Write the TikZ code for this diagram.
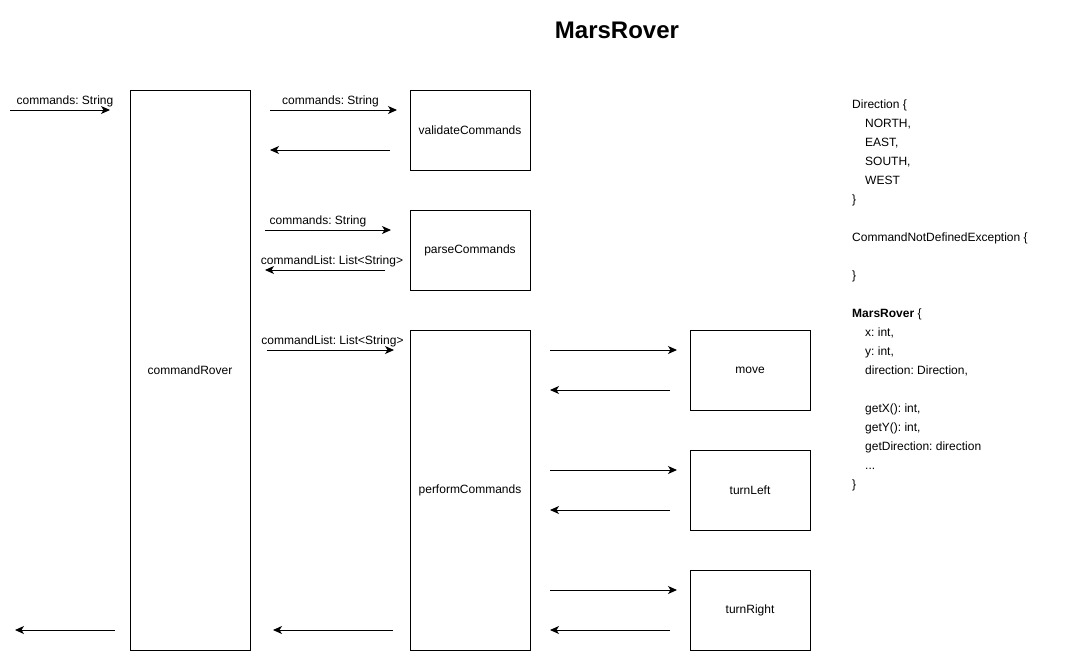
\documentclass[tikz,border=0pt]{standalone}
\usepackage{fontspec}
\setmainfont{Liberation Sans}
\usetikzlibrary{arrows.meta}
\frenchspacing
\begin{document}
\begin{tikzpicture}[x=1pt,y=-1pt,
  box/.style={draw, line width=1pt, minimum width=120pt, inner sep=0pt, font=\fontsize{12}{14}\selectfont},
  msg/.style={line width=1pt, -{Stealth[length=9pt,width=8pt,inset=2.5pt]}},
  lbl/.style={font=\fontsize{12}{14}\selectfont, inner sep=0pt, anchor=base, yshift=5.5pt}
]
\useasboundingbox[fill=white] (0,0) rectangle (1091,651);

\node[font=\bfseries\fontsize{24}{28}\selectfont] (title) at (617,30) {MarsRover};

% boxes
\node[box, minimum height=560pt] (rover) at (190,370) {\raisebox{-1.5pt}{commandRover}};
\node[box, minimum height=80pt] (validate) at (470,130) {\raisebox{-1.5pt}{validateCommands}};
\node[box, minimum height=80pt] (parse) at (470,250) {\raisebox{-1.5pt}{parseCommands}};
\node[box, minimum height=320pt] (perform) at (470,490) {\raisebox{-1.5pt}{performCommands}};
\node[box, minimum height=80pt] (move) at (750,370) {\raisebox{-1.5pt}{move}};
\node[box, minimum height=80pt] (left) at (750,490) {\raisebox{-1.5pt}{turnLeft}};
\node[box, minimum height=80pt] (right) at (750,610) {\raisebox{-1.5pt}{turnRight}};

% arrow end points
\coordinate (a1) at (10,110);  \coordinate (a2) at (110,110);
\coordinate (b1) at (270,110); \coordinate (b2) at (397,110);
\coordinate (c1) at (390,150); \coordinate (c2) at (270,150);
\coordinate (d1) at (265,230); \coordinate (d2) at (391,230);
\coordinate (e1) at (385,270); \coordinate (e2) at (265,270);
\coordinate (f1) at (267,350); \coordinate (f2) at (394,350);
\coordinate (g1) at (550,350); \coordinate (g2) at (677,350);
\coordinate (h1) at (670,390); \coordinate (h2) at (550,390);
\coordinate (i1) at (550,470); \coordinate (i2) at (677,470);
\coordinate (j1) at (670,510); \coordinate (j2) at (550,510);
\coordinate (k1) at (550,590); \coordinate (k2) at (677,590);
\coordinate (l1) at (670,630); \coordinate (l2) at (550,630);
\coordinate (m1) at (393,630); \coordinate (m2) at (273,630);
\coordinate (n1) at (115,630); \coordinate (n2) at (15,630);

\draw[msg] (a1) -- (a2) node[lbl, midway, xshift=5pt] {commands: String};
\draw[msg] (b1) -- (b2) node[lbl, midway, xshift=-3pt] {commands: String};
\draw[msg] (c1) -- (c2);
\draw[msg] (d1) -- (d2) node[lbl, midway, xshift=-10pt] {commands: String};
\draw[msg] (e1) -- (e2) node[lbl, midway, xshift=7pt] {commandList: List<String>};
\draw[msg] (f1) -- (f2) node[lbl, midway, xshift=2pt] {commandList: List<String>};
\draw[msg] (g1) -- (g2);
\draw[msg] (h1) -- (h2);
\draw[msg] (i1) -- (i2);
\draw[msg] (j1) -- (j2);
\draw[msg] (k1) -- (k2);
\draw[msg] (l1) -- (l2);
\draw[msg] (m1) -- (m2);
\draw[msg] (n1) -- (n2);

% class notes
\node[anchor=north west, inner sep=0pt, align=left, font=\fontsize{12}{19}\selectfont] (notes) at (852,100) {%
Direction \{\\
\hspace*{13pt}NORTH,\\
\hspace*{13pt}EAST,\\
\hspace*{13pt}SOUTH,\\
\hspace*{13pt}WEST\\
\}\\
\mbox{}\\
CommandNotDefinedException \{\\
\mbox{}\\
\}\\
\mbox{}\\
\textbf{MarsRover} \{\\
\hspace*{13pt}x: int,\\
\hspace*{13pt}y: int,\\
\hspace*{13pt}direction: Direction,\\
\mbox{}\\
\hspace*{13pt}getX(): int,\\
\hspace*{13pt}getY(): int,\\
\hspace*{13pt}getDirection: direction\\
\hspace*{13pt}...\\
\}};
\end{tikzpicture}
\end{document}
